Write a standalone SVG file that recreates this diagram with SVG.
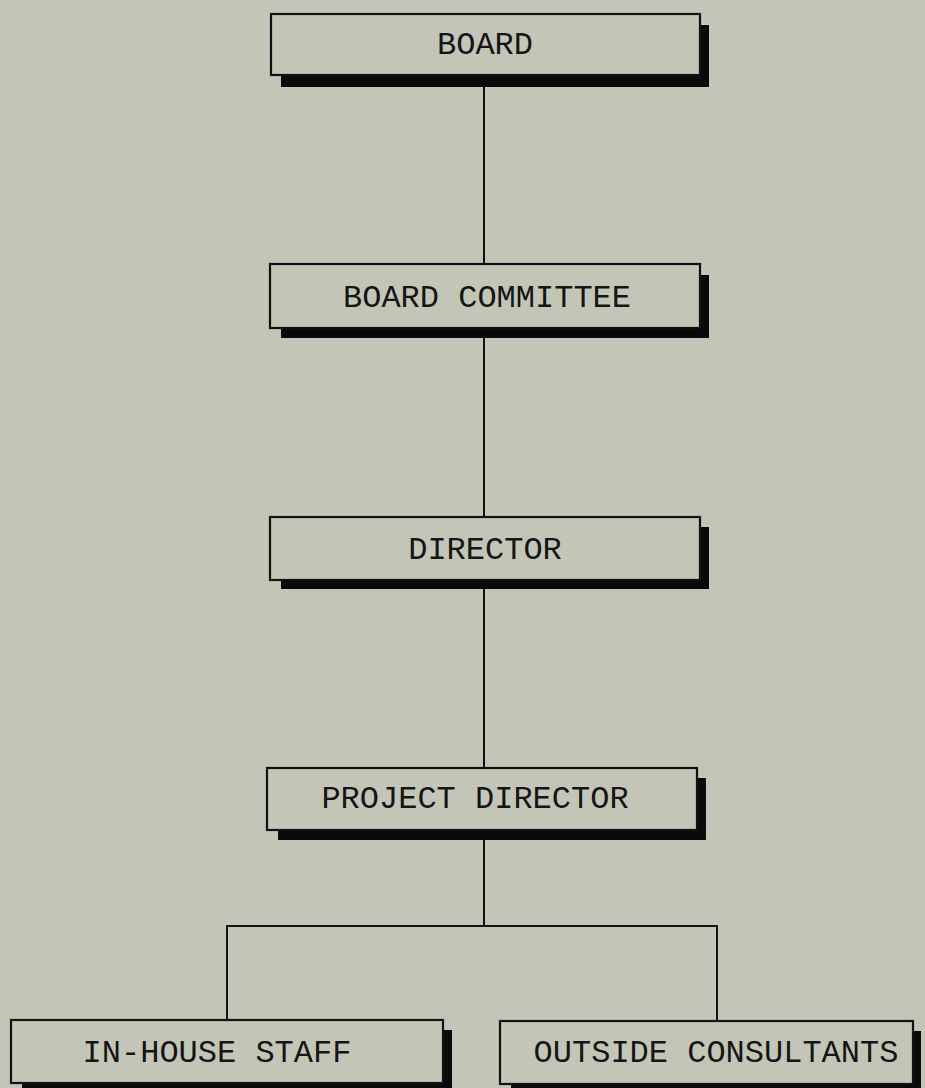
<svg xmlns="http://www.w3.org/2000/svg" width="925" height="1088" viewBox="0 0 925 1088">
<style>
.shadow{fill:#0a0a0a}
.box{fill:#c3c6b7;stroke:#111;stroke-width:2.2}
.lbl{font-family:"Liberation Mono","Courier New",monospace;font-size:32px;fill:#151515;text-anchor:middle}
.conn{fill:none;stroke:#111;stroke-width:2}
</style>
<rect width="925" height="1088" fill="#c3c6b7"/>
<g id="connectors" class="conn">
<line x1="484" y1="75" x2="484" y2="264"/>
<line x1="484" y1="328" x2="484" y2="517"/>
<line x1="484" y1="580" x2="484" y2="768"/>
<line x1="484" y1="830" x2="484" y2="926"/>
<polyline points="227,1020 227,926 717,926 717,1021"/>
</g>
<g id="board">
<rect class="shadow" x="281" y="25" width="428" height="62"/>
<rect class="box" x="271" y="14" width="429" height="61"/>
<text class="lbl" x="485" y="54">BOARD</text>
</g>
<g id="board-committee">
<rect class="shadow" x="281" y="275" width="428" height="63"/>
<rect class="box" x="270" y="264" width="430" height="64"/>
<text class="lbl" x="487" y="307">BOARD COMMITTEE</text>
</g>
<g id="director">
<rect class="shadow" x="281" y="527" width="428" height="62"/>
<rect class="box" x="270" y="517" width="430" height="63"/>
<text class="lbl" x="485" y="559">DIRECTOR</text>
</g>
<g id="project-director">
<rect class="shadow" x="278" y="778" width="428" height="62"/>
<rect class="box" x="267" y="768" width="430" height="62"/>
<text class="lbl" x="475" y="808">PROJECT DIRECTOR</text>
</g>
<g id="in-house-staff">
<rect class="shadow" x="22" y="1030" width="430" height="60"/>
<rect class="box" x="11" y="1020" width="432" height="63"/>
<text class="lbl" x="217" y="1062">IN-HOUSE STAFF</text>
</g>
<g id="outside-consultants">
<rect class="shadow" x="511" y="1031" width="410" height="60"/>
<rect class="box" x="500" y="1021" width="413" height="63"/>
<text class="lbl" x="716" y="1062">OUTSIDE CONSULTANTS</text>
</g>
</svg>
